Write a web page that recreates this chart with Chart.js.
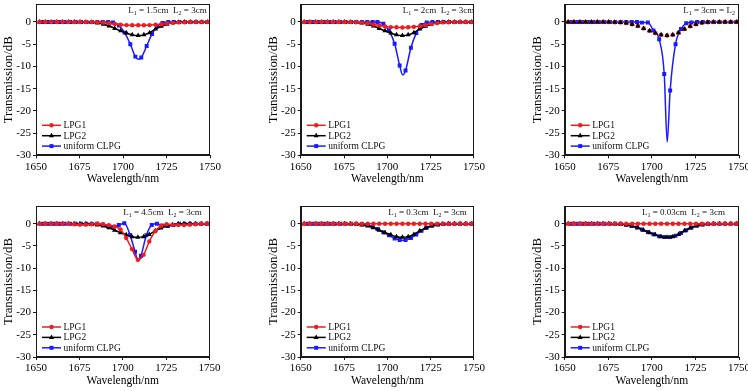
<!DOCTYPE html>
<html>
<head>
<meta charset="utf-8">
<script src="https://cdn.jsdelivr.net/npm/chart.js@4/dist/chart.umd.min.js"></script>
<style>
  html, body { margin: 0; padding: 0; background: #fff; overflow: hidden; }
  #wrap { position: relative; width: 748px; height: 391px; overflow: hidden; }
  #wrap canvas { position: absolute; }
</style>
</head>
<body>
<div id="wrap"></div>
<script>
// tick labels
const X_TICKS = [1650, 1675, 1700, 1725, 1750];
const Y_TICKS = [-30, -25, -20, -15, -10, -5, 0];

// wavelengths (nm) of the LPG1 / LPG2 samples
const WL = [1652, 1655.3, 1658.7, 1662, 1665.3, 1668.7, 1672, 1675.3, 1678.7, 1682,
  1685.3, 1688.7, 1692, 1695.3, 1698.7, 1702, 1705.3, 1708.7, 1712, 1715.3,
  1718.7, 1722, 1725.3, 1728.7, 1732, 1735.3, 1738.7, 1742, 1745.3, 1748.7];

// wavelengths (nm) of the uniform CLPG samples (index 18 = dip, no marker)
const WL_CLPG = [1654, 1657.1, 1660.3, 1663.4, 1666.5, 1669.6, 1672.8, 1675.9, 1679, 1682.1,
  1685.3, 1688.4, 1691.5, 1694.3, 1697.7, 1700.9, 1704.2, 1707.1, 1708.8, 1710.5,
  1713.6, 1716.7, 1719.7, 1722.7, 1726, 1729.2, 1732.4, 1735.6, 1738.8, 1742,
  1745.2, 1748.4];
const DIP_INDEX = 18;

// LPG2 (L2 = 3cm), same in every panel, dB
const LPG2 = [0, 0, 0, 0, 0, 0, 0, 0, -0.05, -0.1,
  -0.25, -0.5, -0.9, -1.45, -2.0, -2.5, -2.9, -3.05, -2.9, -2.4,
  -1.6, -0.95, -0.5, -0.2, -0.05, 0, 0, 0, 0, 0];

// LPG1 per panel, dB
const LPG1_15 = [0, 0, 0, 0, 0, 0, 0, 0, 0, 0,
  -0.05, -0.15, -0.3, -0.45, -0.6, -0.7, -0.75, -0.75, -0.75, -0.7,
  -0.6, -0.5, -0.35, -0.2, -0.1, -0.05, 0, 0, 0, 0];
const LPG1_2 = [0, 0, 0, 0, 0, 0, 0, 0, 0, -0.05,
  -0.15, -0.3, -0.55, -0.8, -1.0, -1.15, -1.2, -1.25, -1.2, -1.1,
  -0.95, -0.7, -0.45, -0.25, -0.1, -0.05, 0, 0, 0, 0];
const LPG1_3 = LPG2;
const LPG1_45 = [0, 0, 0, 0, 0, 0, -0.1, -0.2, -0.2, -0.1,
  0, -0.1, -0.3, -0.6, -1.3, -3.2, -5.7, -8.1, -7.0, -4.0,
  -1.7, -0.5, -0.1, -0.2, -0.3, -0.3, -0.2, -0.1, 0, 0];
const LPG1_03 = [0, 0, 0, 0, 0, 0, 0, 0, 0, 0,
  0, 0, 0, 0, 0, 0, 0, 0, 0, 0,
  0, 0, 0, 0, 0, 0, 0, 0, 0, 0];
const LPG1_003 = LPG1_03;

// uniform CLPG per panel, dB
const CLPG_15 = [0, 0, 0, 0, 0, 0, 0, 0, 0, 0,
  0, 0, 0, -0.1, -0.8, -2.4, -5.0, -7.8, -8.4, -8.0,
  -5.4, -2.7, -0.9, -0.2, 0, 0, 0, 0, 0, 0, 0, 0];
const CLPG_2 = [0, 0, 0, 0, 0, 0, 0, 0, 0, 0,
  0, 0, 0, 0, -0.4, -1.9, -4.9, -9.8, -11.9, -10.9,
  -5.8, -2.5, -0.7, -0.1, 0, 0, 0, 0, 0, 0, 0, 0];
const CLPG_3 = [0, 0, 0, 0, 0, 0, 0, 0, 0, 0,
  0, 0, 0, -0.15, -0.1, -1.9, -3.9, -11.7, -27, -15.4,
  -5.0, -1.6, -0.3, -0.1, 0, 0, 0, 0, 0, 0, 0, 0];
const CLPG_45 = [0, 0, 0, 0, 0, 0, 0, 0, 0, 0,
  0, -0.2, -0.5, -0.7, -0.3, 0.1, -2.5, -6.3, -8.3, -7.2,
  -2.6, -0.3, 0, -0.4, -0.5, -0.3, 0, 0, 0, 0, 0, 0];
const CLPG_03 = [0, 0, 0, 0, 0, 0, 0, 0, 0, 0,
  -0.1, -0.3, -0.7, -1.2, -1.9, -2.6, -3.3, -3.65, -3.7, -3.65,
  -3.2, -2.4, -1.6, -0.9, -0.4, -0.15, -0.05, 0, 0, 0, 0, 0];
const CLPG_003 = [0, 0, 0, 0, 0, 0, 0, 0, 0, 0,
  -0.25, -0.5, -0.85, -1.3, -1.85, -2.35, -2.8, -3.0, -3.05, -3.0,
  -2.7, -2.1, -1.45, -0.85, -0.4, -0.15, -0.05, 0, 0, 0, 0, 0];

const NOTES = ["L_1 = 1.5cm  L_2 = 3cm", "L_1 = 2cm  L_2 = 3cm", "L_1 = 3cm = L_2",
  "L_1 = 4.5cm  L_2 = 3cm", "L_1 = 0.3cm  L_2 = 3cm", "L_1 = 0.03cm  L_2 = 3cm"];

const RED = "#ee1c1c";
const BLACK = "#000000";
const BLUE = "#1a1aff";
const AXIS = "#1a1a1a";
const FONT = "'Liberation Serif', 'Times New Roman', serif";

// every canvas covers the whole page plus a hidden margin, so layout never clamps
const OFF = 30;
const CANVAS_W = 748 + 2 * OFF;
const CANVAS_H = 391 + 2 * OFF;
const Y_AXIS_W = 36;
const X_AXIS_H = 34;

const panels = [
  { box: { left: 36, right: 210, top: 4.2, bottom: 155.3 }, noteX: 128.3, lpg1: LPG1_15, clpg: CLPG_15, lines: true },
  { box: { left: 300.7, right: 474, top: 4.2, bottom: 155.3 }, noteX: 402.7, lpg1: LPG1_2, clpg: CLPG_2, lines: true },
  { box: { left: 564.7, right: 739, top: 4.2, bottom: 155.3 }, noteX: 683.3, lpg1: LPG1_3, clpg: CLPG_3, lines: false },
  { box: { left: 36, right: 209.5, top: 206, bottom: 357 }, noteX: 123.3, lpg1: LPG1_45, clpg: CLPG_45, lines: true },
  { box: { left: 300.7, right: 474, top: 206, bottom: 357 }, noteX: 388.3, lpg1: LPG1_03, clpg: CLPG_03, lines: true },
  { box: { left: 564.7, right: 739, top: 206, bottom: 357 }, noteX: 642, lpg1: LPG1_003, clpg: CLPG_003, lines: true },
];

function series(xs, ys) {
  return xs.map((x, i) => ({ x: x, y: ys[i] }));
}

// note with subscripts: "L_1" -> L with a small 1
function drawNote(ctx, text, x, y) {
  const parts = text.split(/_(\d)/);
  ctx.textBaseline = "alphabetic";
  ctx.textAlign = "left";
  ctx.fillStyle = "#111";
  parts.forEach((t, i) => {
    const sub = i % 2 === 1;
    ctx.font = (sub ? "6px " : "9px ") + FONT;
    ctx.fillText(t, x, sub ? y + 2 : y);
    x += ctx.measureText(t).width;
  });
}

const framePlugin = {
  id: "frame",
  afterDraw(chart, args, opts) {
    const { ctx, chartArea: a } = chart;
    ctx.save();
    ctx.strokeStyle = AXIS;
    ctx.lineWidth = 1;
    const l = Math.round(a.left) + 0.5, t = Math.round(a.top) + 0.5;
    const r = Math.round(a.right) - 0.5, b = Math.round(a.bottom) - 0.5;
    ctx.strokeRect(l, t, r - l, b - t);

    drawNote(ctx, opts.note, opts.noteX + OFF, a.top + 8.8);

    // legend: line + marker + label
    chart.data.datasets.forEach((ds, i) => {
      const y = a.bottom - 30 + i * 10.4;
      const x0 = a.left + 6, x1 = a.left + 25;
      ctx.strokeStyle = ds.borderColor;
      ctx.fillStyle = ds.borderColor;
      ctx.lineWidth = 1.5;
      ctx.beginPath();
      ctx.moveTo(x0, y);
      ctx.lineTo(x1, y);
      ctx.stroke();
      Chart.helpers.drawPoint(ctx, { pointStyle: ds.pointStyle, rotation: 0, radius: ds.legendRadius, borderWidth: 0 }, (x0 + x1) / 2, y);
      ctx.fillStyle = "#111";
      ctx.font = "9.5px " + FONT;
      ctx.textBaseline = "middle";
      ctx.textAlign = "left";
      ctx.fillText(ds.label, x1 + 2.5, y + 0.5);
    });
    ctx.restore();
  },
};

const wrap = document.getElementById("wrap");

panels.forEach((p, n) => {
  const canvas = document.createElement("canvas");
  canvas.width = CANVAS_W;
  canvas.height = CANVAS_H;
  canvas.style.width = CANVAS_W + "px";
  canvas.style.height = CANVAS_H + "px";
  canvas.style.left = -OFF + "px";
  canvas.style.top = -OFF + "px";
  wrap.appendChild(canvas);

  const tickFont = { family: FONT, size: 11 };

  new Chart(canvas.getContext("2d"), {
    type: "line",
    data: {
      datasets: [
        {
          label: "LPG1",
          data: series(WL, p.lpg1),
          borderColor: RED,
          backgroundColor: RED,
          borderWidth: 1.5,
          pointStyle: "circle",
          pointRadius: 2.2,
          legendRadius: 2.2,
          pointBorderWidth: 0,
          cubicInterpolationMode: "monotone",
          showLine: p.lines,
          order: p.lines ? 0 : 1,
        },
        {
          label: "LPG2",
          data: series(WL, LPG2),
          borderColor: BLACK,
          backgroundColor: BLACK,
          borderWidth: 1.5,
          pointStyle: "triangle",
          pointRadius: 3,
          legendRadius: 3,
          pointBorderWidth: 0,
          cubicInterpolationMode: "monotone",
          showLine: p.lines,
          order: p.lines ? 1 : 0,
        },
        {
          label: "uniform CLPG",
          data: series(WL_CLPG, p.clpg),
          borderColor: BLUE,
          backgroundColor: BLUE,
          borderWidth: 1.5,
          pointStyle: "rect",
          pointRadius: (c) => (c.dataIndex === DIP_INDEX ? 0 : 2.8),
          legendRadius: 2.8,
          pointBorderWidth: 0,
          cubicInterpolationMode: "monotone",
          order: 2,
        },
      ],
    },
    options: {
      responsive: false,
      animation: false,
      events: [],
      layout: {
        autoPadding: false,
        padding: {
          left: p.box.left + OFF - Y_AXIS_W,
          top: p.box.top + OFF,
          right: CANVAS_W - OFF - p.box.right,
          bottom: CANVAS_H - OFF - p.box.bottom - X_AXIS_H,
        },
      },
      plugins: {
        legend: { display: false },
        tooltip: { enabled: false },
        frame: { note: NOTES[n], noteX: p.noteX },
      },
      scales: {
        x: {
          type: "linear",
          min: 1650,
          max: 1750,
          afterBuildTicks: (s) => { s.ticks = X_TICKS.map((v) => ({ value: v })); },
          afterFit: (s) => { s.height = X_AXIS_H; },
          grid: { drawOnChartArea: false, tickLength: 3, color: AXIS },
          border: { color: AXIS, width: 1 },
          ticks: { font: tickFont, color: "#000", padding: 2, maxRotation: 0, autoSkip: false, callback: (v) => String(v) },
          title: { display: true, text: "Wavelength/nm", color: "#000", font: { family: FONT, size: 11.5 }, padding: { top: 0, bottom: 3.6 } },
        },
        y: {
          type: "linear",
          min: -30,
          max: 4,
          afterBuildTicks: (s) => { s.ticks = Y_TICKS.map((v) => ({ value: v })); },
          afterFit: (s) => { s.width = Y_AXIS_W; },
          grid: { drawOnChartArea: false, tickLength: 3, color: AXIS },
          border: { color: AXIS, width: 1 },
          ticks: { font: tickFont, color: "#000", padding: 2, callback: (v) => String(v) },
          title: { display: true, text: "Transmission/dB", color: "#000", font: { family: FONT, size: 12.8 }, padding: { top: 1.3, bottom: 0 } },
        },
      },
    },
    plugins: [framePlugin],
  });
});
</script>
</body>
</html>
